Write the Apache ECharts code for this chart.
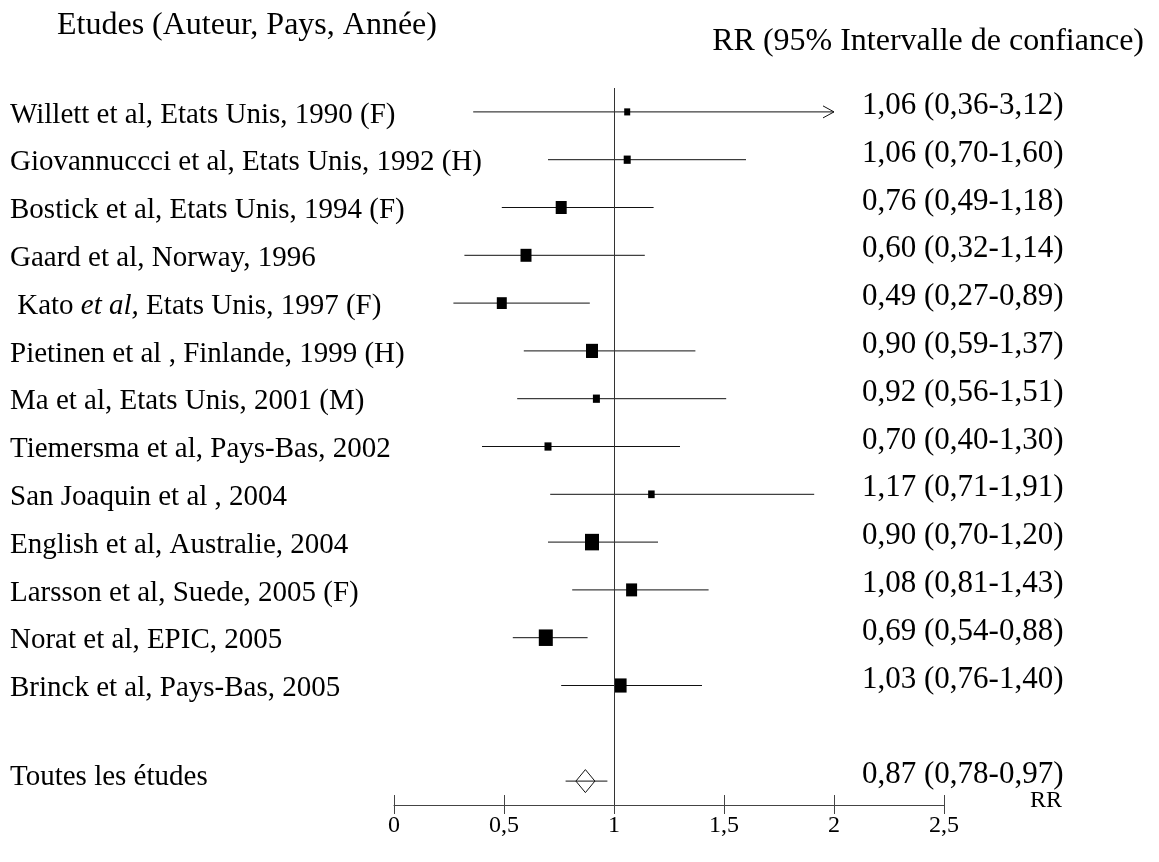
<!DOCTYPE html>
<html>
<head>
<meta charset="utf-8">
<title>Forest plot RR</title>
<script src="https://cdn.jsdelivr.net/npm/echarts@6/dist/echarts.min.js"></script>
<style>
  html, body { margin: 0; padding: 0; background: #fff; }
  #chart { width: 1159px; height: 862px; }
</style>
</head>
<body>
<div id="chart"></div>
<script>
// Study labels (author, country, year)
const studies = [
  'Willett et al, Etats Unis, 1990 (F)',
  'Giovannuccci et al, Etats Unis, 1992 (H)',
  'Bostick et al, Etats Unis, 1994 (F)',
  'Gaard et al, Norway, 1996',
  ' Kato et al, Etats Unis, 1997 (F)',
  'Pietinen et al , Finlande, 1999 (H)',
  'Ma et al, Etats Unis, 2001 (M)',
  'Tiemersma et al, Pays-Bas, 2002',
  'San Joaquin et al , 2004',
  'English et al, Australie, 2004',
  'Larsson et al, Suede, 2005 (F)',
  'Norat et al, EPIC, 2005',
  'Brinck et al, Pays-Bas, 2005'
];
// Relative risk and 95% confidence interval per study
const rr = [1.06, 1.06, 0.76, 0.60, 0.49, 0.90, 0.92, 0.70, 1.17, 0.90, 1.08, 0.69, 1.03];
const lo = [0.36, 0.70, 0.49, 0.32, 0.27, 0.59, 0.56, 0.40, 0.71, 0.70, 0.81, 0.54, 0.76];
const hi = [3.12, 1.60, 1.18, 1.14, 0.89, 1.37, 1.51, 1.30, 1.91, 1.20, 1.43, 0.88, 1.40];
// Relative study weights (square area)
const weights = [2.2, 3.0, 7.4, 7.4, 6.1, 8.8, 3.0, 3.0, 2.6, 12.0, 7.4, 12.0, 8.8];
// Pooled estimate
const pooledLabel = 'Toutes les études';
const pooledRR = [0.87];
const pooledLo = [0.78];
const pooledHi = [0.97];
// X axis tick labels
const tickLabels = ['0', '0,5', '1', '1,5', '2', '2,5'];
// Confidence intervals beyond this value are drawn truncated with an arrow
const ARROW_CAP = 2;

const FONT = 'Liberation Serif';
const FS = 29;

const fmt = v => v.toFixed(2).replace('.', ',');
const ciText = (r, l, h) => fmt(r) + ' (' + fmt(l) + '-' + fmt(h) + ')';

const pooledRow = studies.length + 1;
const rowLabels = studies.concat(['', pooledLabel]);
const rightLabels = studies.map((_, i) => ciText(rr[i], lo[i], hi[i]))
  .concat(['', ciText(pooledRR[0], pooledLo[0], pooledHi[0])]);

const studyData = studies.map((_, i) => [rr[i], i, lo[i], hi[i], weights[i]]);
const pooledData = [[pooledRR[0], pooledRow, pooledLo[0], pooledHi[0]]];

const textBase = { fontFamily: FONT, fontSize: FS, color: '#000' };

function renderStudy(params, api) {
  const r = api.value(0), row = api.value(1), l = api.value(2), h = api.value(3), w = api.value(4);
  const hiShown = Math.min(h, ARROW_CAP);
  const pL = api.coord([l, row]);
  const pH = api.coord([hiShown, row]);
  const pR = api.coord([r, row]);
  const side = 14 * Math.sqrt(w / 12);
  const tall = side * 1.18;
  const children = [
    { type: 'line', shape: { x1: pL[0], y1: pL[1], x2: pH[0], y2: pH[1] },
      style: { stroke: '#111', lineWidth: 1 } },
    { type: 'rect', shape: { x: pR[0] - side / 2, y: pR[1] - tall / 2, width: side, height: tall },
      style: { fill: '#000' } }
  ];
  if (h > ARROW_CAP) {
    children.push({ type: 'polyline',
      shape: { points: [[pH[0] - 11, pH[1] - 6], [pH[0], pH[1]], [pH[0] - 11, pH[1] + 6]] },
      style: { stroke: '#111', lineWidth: 1, fill: null } });
  }
  return { type: 'group', children };
}

function renderPooled(params, api) {
  const r = api.value(0), row = api.value(1), l = api.value(2), h = api.value(3);
  const pL = api.coord([l, row]);
  const pH = api.coord([h, row]);
  const pR = api.coord([r, row]);
  const hw = 9.5, hh = 11.5;
  return { type: 'group', children: [
    { type: 'line', shape: { x1: pL[0], y1: pL[1], x2: pH[0], y2: pH[1] },
      style: { stroke: '#111', lineWidth: 1 } },
    { type: 'polygon',
      shape: { points: [[pR[0], pR[1] - hh], [pR[0] + hw, pR[1]], [pR[0], pR[1] + hh], [pR[0] - hw, pR[1]]] },
      style: { stroke: '#111', lineWidth: 1, fill: 'rgba(255,255,255,0)' } }
  ]};
}

const chart = echarts.init(document.getElementById('chart'), null, { renderer: 'canvas' });
chart.setOption({
  animation: false,
  backgroundColor: '#fff',
  textStyle: { fontFamily: FONT },
  title: [
    { text: 'Etudes (Auteur, Pays, Année)', left: 52, top: 5,
      textStyle: Object.assign({}, textBase, { fontWeight: 'normal', fontSize: 32 }) },
    { text: 'RR (95% Intervalle de confiance)', right: 10, top: 21,
      textStyle: Object.assign({}, textBase, { fontWeight: 'normal', fontSize: 32 }) }
  ],
  grid: { left: 394, right: 215, top: 88, bottom: 57, containLabel: false, outerBoundsMode: 'none' },
  xAxis: [
    {
      type: 'value', min: 0, max: 2.5, interval: 0.5, position: 'bottom',
      axisLine: { show: true, lineStyle: { color: '#444', width: 1 } },
      axisTick: { show: true, length: 9, lineStyle: { color: '#444', width: 1 } },
      axisLabel: Object.assign({}, textBase, { fontSize: 24, margin: 9,
        formatter: v => tickLabels[Math.round(v / 0.5)] }),
      splitLine: { show: false },
      name: 'RR', nameLocation: 'end', nameGap: 86, nameMoveOverlap: false,
      nameTextStyle: Object.assign({}, textBase, { fontSize: 24, verticalAlign: 'bottom', lineHeight: 8 })
    },
    {
      type: 'value', min: 0, max: 2.5, interval: 0.5, position: 'bottom',
      axisLine: { show: false },
      axisTick: { show: true, inside: true, length: 10, lineStyle: { color: '#444', width: 1 } },
      axisLabel: { show: false },
      splitLine: { show: false }
    }
  ],
  yAxis: [
    {
      type: 'category', inverse: true, data: rowLabels,
      axisLine: { show: false }, axisTick: { show: false }, splitLine: { show: false },
      axisLabel: Object.assign({}, textBase, {
        align: 'left', margin: 384, interval: 0,
        formatter: v => {
          if (v === pooledLabel) return '{p|' + v + '}';
          const k = v.indexOf('et al,');
          if (v.startsWith(' Kato') && k >= 0) {
            return '{n|' + v.slice(0, k) + '}{i|et al,}{n|' + v.slice(k + 6) + '}';
          }
          return '{n|' + v + '}';
        },
        rich: {
          n: Object.assign({ padding: [6, 0, 0, 0] }, textBase),
          i: Object.assign({ fontStyle: 'italic', padding: [6, 0, 0, 0] }, textBase),
          p: Object.assign({ padding: [0, 0, 8, 0] }, textBase)
        }
      })
    },
    {
      type: 'category', inverse: true, data: rightLabels, position: 'right', offset: -82,
      axisLine: { show: false }, axisTick: { show: false }, splitLine: { show: false },
      axisLabel: Object.assign({}, textBase, { fontSize: 31, align: 'left', margin: 0, interval: 0,
        verticalAlign: 'bottom', lineHeight: 12 })
    }
  ],
  series: [
    {
      type: 'custom', name: 'études', xAxisIndex: 0, yAxisIndex: 0,
      renderItem: renderStudy, data: studyData,
      encode: { x: [0, 2, 3], y: 1 },
      clip: false, silent: true, z: 3,
      markLine: {
        silent: true, symbol: 'none', label: { show: false },
        lineStyle: { color: '#333', width: 1, type: 'solid' },
        data: [{ xAxis: 1 }]
      }
    },
    {
      type: 'custom', name: 'global', xAxisIndex: 0, yAxisIndex: 0,
      renderItem: renderPooled, data: pooledData,
      encode: { x: [0, 2, 3], y: 1 },
      clip: false, silent: true, z: 3
    }
  ]
});
</script>
</body>
</html>
